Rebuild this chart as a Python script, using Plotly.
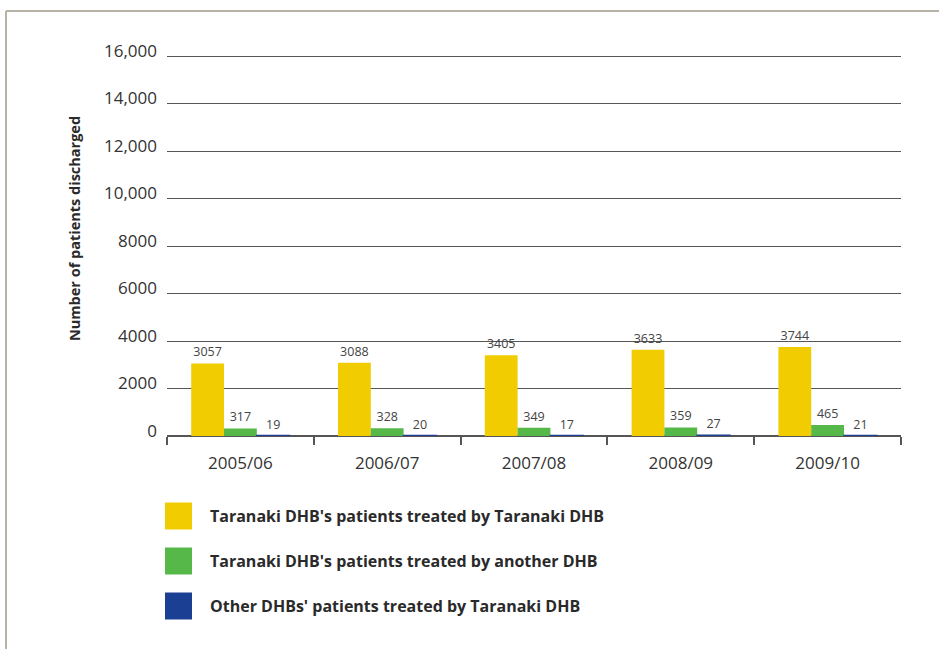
import plotly.graph_objects as go

categories = ["2005/06", "2006/07", "2007/08", "2008/09", "2009/10"]
series_names = [
    "Taranaki DHB's patients treated by Taranaki DHB",
    "Taranaki DHB's patients treated by another DHB",
    "Other DHBs' patients treated by Taranaki DHB",
]
treated_by_taranaki = [3057, 3088, 3405, 3633, 3744]
treated_by_another = [317, 328, 349, 359, 465]
other_dhbs_patients = [19, 20, 17, 27, 21]
series_values = [treated_by_taranaki, treated_by_another, other_dhbs_patients]
colors = ["#F0CC00", "#55B848", "#1B3F93"]
outline_widths = [0, 0, 1.5]

tick_vals = [0, 2000, 4000, 6000, 8000, 10000, 12000, 14000, 16000]
tick_text = ["0", "2000", "4000", "6000", "8000", "10,000", "12,000", "14,000", "16,000"]

FONT = "Open Sans"
W, H = 939, 649
L, R, T, B = 167, 38, 54, 213
pw, ph = W - L - R, H - T - B

def px(x):
    return (x - L) / pw

def py(y):
    return (H - B - y) / ph

fig = go.Figure()
for name, vals, col, lw in zip(series_names, series_values, colors, outline_widths):
    fig.add_trace(go.Bar(
        x=categories, y=vals, name=name, marker_color=col,
        marker_line_width=lw, marker_line_color=col,
        text=[str(v) for v in vals], textposition="outside",
        textfont=dict(family=FONT, size=12.5, color="#444444"),
        cliponaxis=False, showlegend=False,
    ))

shapes = [
    dict(type="line", xref="paper", yref="paper", x0=px(6), x1=px(939), y0=py(11), y1=py(11),
         line=dict(color="#B8B3A6", width=2)),
    dict(type="line", xref="paper", yref="paper", x0=px(6), x1=px(6), y0=py(11), y1=py(649),
         line=dict(color="#B8B3A6", width=2)),
]
annotations = []
leg_y = [516, 561, 606]
for name, col, yy in zip(series_names, colors, leg_y):
    shapes.append(dict(type="rect", xref="paper", yref="paper",
                       x0=px(165), x1=px(192), y0=py(yy - 13.5), y1=py(yy + 13.5),
                       fillcolor=col, line=dict(width=0)))
    annotations.append(dict(xref="paper", yref="paper", x=px(208), y=py(yy), text="<b>" + name + "</b>",
                            showarrow=False, xanchor="left", yanchor="middle",
                            font=dict(family=FONT, size=16, color="#2a2a2a")))
annotations.append(dict(xref="paper", yref="paper", x=px(74), y=py(228),
                        text="<b>Number of patients discharged</b>", textangle=-90,
                        showarrow=False, xanchor="center", yanchor="middle",
                        font=dict(family=FONT, size=14.5, color="#2a2a2a")))

fig.update_layout(
    width=W, height=H,
    margin=dict(l=L, r=R, t=T, b=B),
    paper_bgcolor="white", plot_bgcolor="white",
    barmode="group", bargap=0.33, bargroupgap=0,
    shapes=shapes, annotations=annotations,
    font=dict(family=FONT, color="#333333"),
    xaxis=dict(
        type="category", showgrid=False, tickson="boundaries", ticks="outside",
        ticklen=8, tickcolor="#555555", tickwidth=1.5,
        showline=False, zeroline=False, ticklabelstandoff=15,
        tickfont=dict(family=FONT, size=17, color="#333333"),
    ),
    yaxis=dict(
        range=[0, 16085], tickvals=tick_vals, ticktext=tick_text,
        showgrid=True, gridcolor="#555555", gridwidth=1.2,
        zeroline=True, zerolinecolor="#555555", zerolinewidth=1.5,
        ticks="", ticklabelstandoff=9, ticklabelshift=-5,
        tickfont=dict(family=FONT, size=17, color="#333333"),
    ),
)

fig.write_html("out.html", config={"displayModeBar": False},
               post_script="document.body.style.margin='0';")
